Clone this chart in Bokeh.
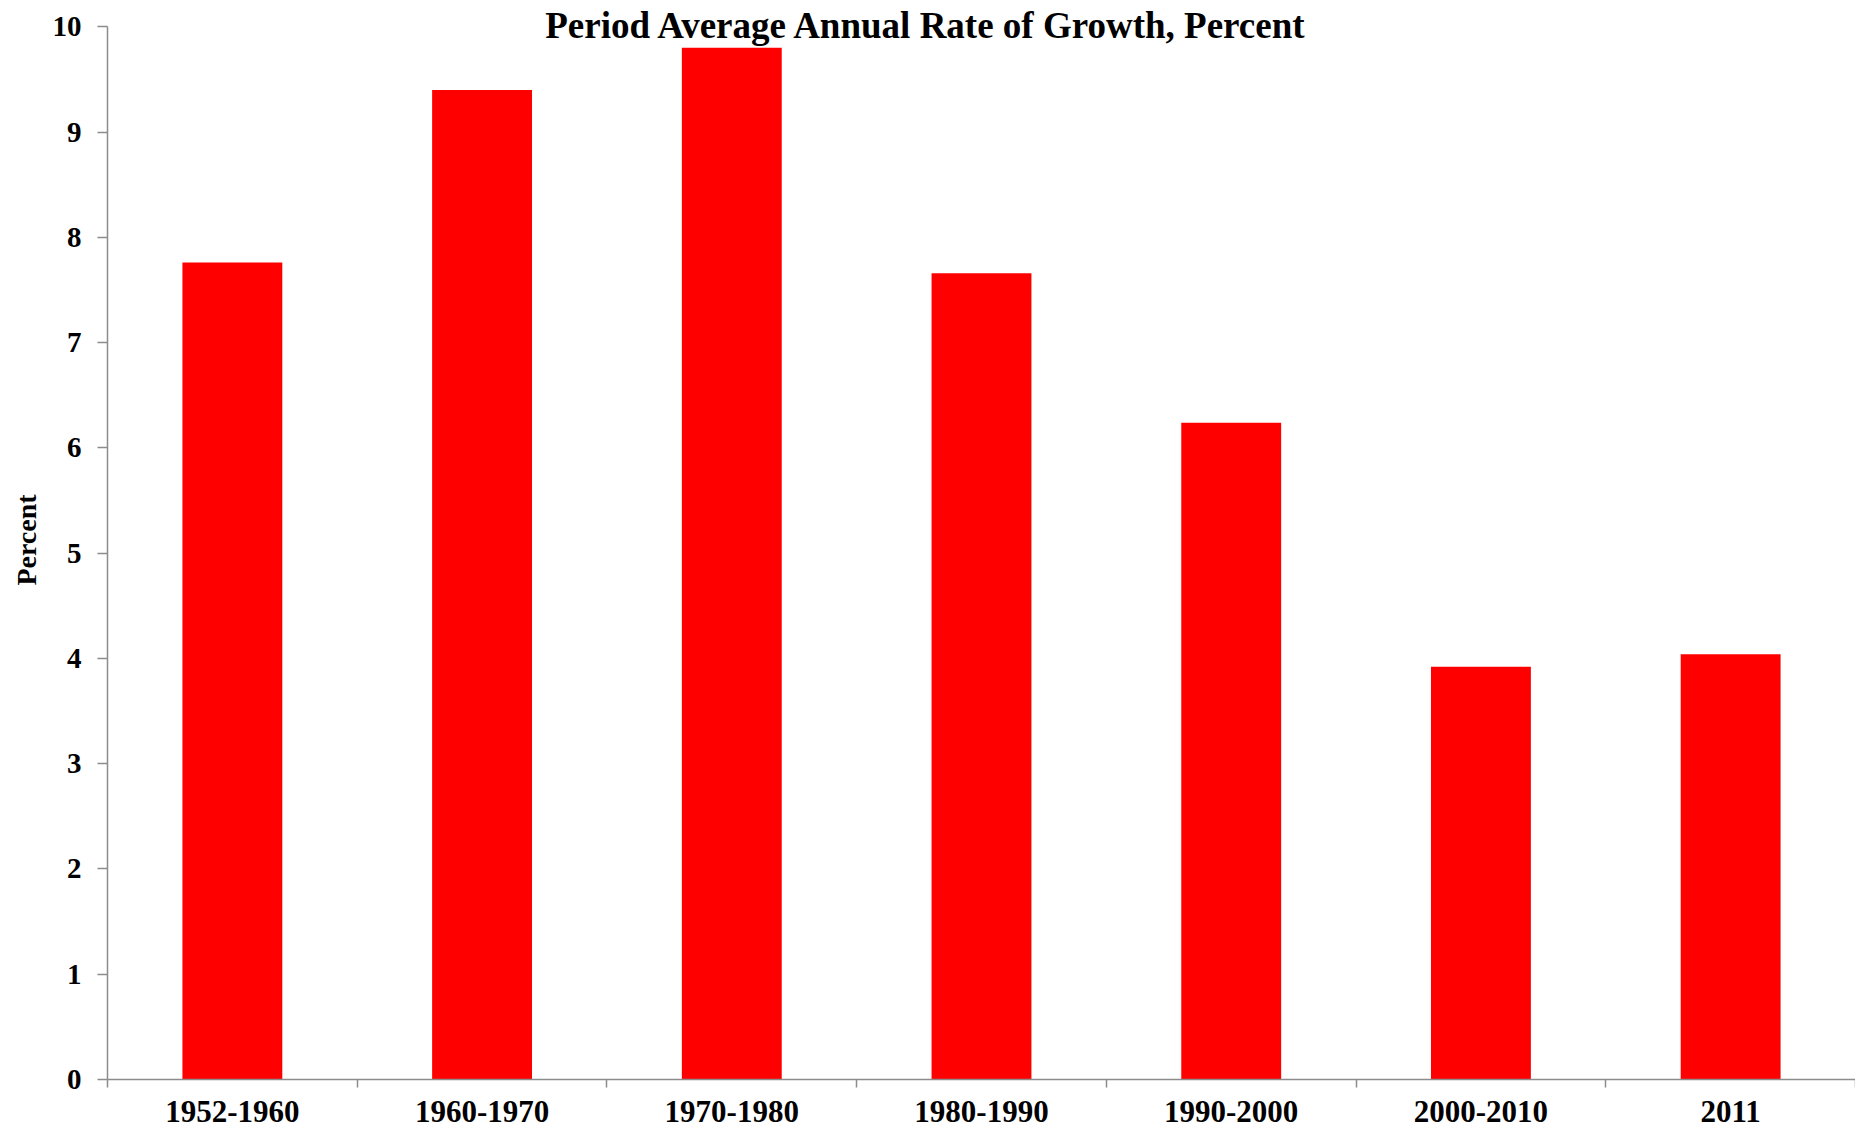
from bokeh.plotting import figure
from bokeh.models import FixedTicker, Range1d, Label
from bokeh.embed import file_html
from bokeh.resources import INLINE

# Data
periods = ["1952-1960", "1960-1970", "1970-1980", "1980-1990", "1990-2000", "2000-2010", "2011"]
growth = [7.76, 9.40, 9.80, 7.66, 6.24, 3.92, 4.04]
y_ticks = [0, 1, 2, 3, 4, 5, 6, 7, 8, 9, 10]
title_text = "Period Average Annual  Rate of Growth, Percent"
y_label = "Percent"

n = len(periods)
centers = [i + 0.5 for i in range(n)]
bounds = [float(i) for i in range(n + 1)]

FONT = "Liberation Serif"
AXIS_GRAY = "#8c8c8c"

p = figure(width=1855, height=1129, output_backend="svg", toolbar_location=None,
           x_range=Range1d(0, n), y_range=Range1d(0, 10.25),
           min_border_left=107, min_border_right=0, min_border_top=0, min_border_bottom=50)
p.outline_line_color = None
p.background_fill_color = "white"
p.border_fill_color = "white"
p.xgrid.visible = False
p.ygrid.visible = False

p.vbar(x=centers, top=growth, width=0.4, bottom=0, fill_color="#ff0000", line_color=None)

# x axis
xa = p.xaxis[0]
xa.ticker = FixedTicker(ticks=centers, minor_ticks=bounds)
xa.major_label_overrides = {c: lab for c, lab in zip(centers, periods)}
xa.major_tick_line_color = None
xa.minor_tick_line_color = AXIS_GRAY
xa.minor_tick_line_width = 1.5
xa.minor_tick_in = 0
xa.minor_tick_out = 8
xa.axis_line_color = AXIS_GRAY
xa.axis_line_width = 1.5
xa.major_label_text_font = FONT
xa.major_label_text_font_style = "bold"
xa.major_label_text_font_size = "31px"
xa.major_label_text_color = "black"
xa.major_label_standoff = 13

# y axis
ya = p.yaxis[0]
ya.ticker = FixedTicker(ticks=y_ticks, minor_ticks=[])
ya.bounds = (0, 10)
ya.major_tick_in = 0
ya.major_tick_out = 10
ya.major_tick_line_color = AXIS_GRAY
ya.major_tick_line_width = 1.5
ya.axis_line_color = AXIS_GRAY
ya.axis_line_width = 1.5
ya.major_label_text_font = FONT
ya.major_label_text_font_style = "bold"
ya.major_label_text_font_size = "29px"
ya.major_label_text_color = "black"
ya.major_label_standoff = 16
ya.axis_label = y_label
ya.axis_label_text_font = FONT
ya.axis_label_text_font_style = "bold"
ya.axis_label_text_font_size = "28px"
ya.axis_label_text_color = "black"
ya.axis_label_standoff = 8

title = Label(x=3.30, y=10.01, text=title_text, text_font=FONT, text_font_style="bold",
              text_font_size="37px", text_color="black", text_align="center",
              text_baseline="alphabetic")
p.add_layout(title)

open("out.html", "w").write(file_html(p, INLINE))
